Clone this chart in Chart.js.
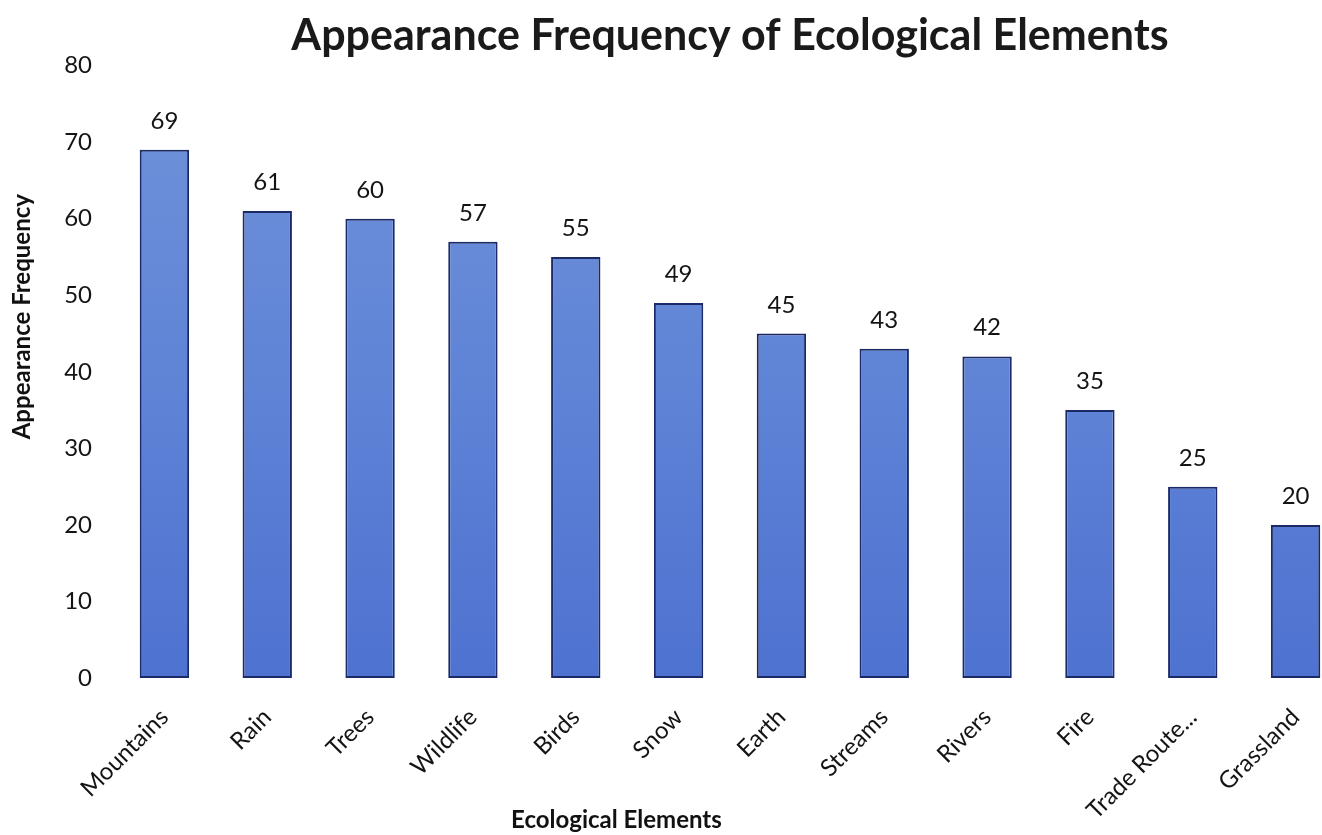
<!DOCTYPE html>
<html>
<head>
<meta charset="utf-8">
<script src="https://cdn.jsdelivr.net/npm/chart.js@4/dist/chart.umd.min.js"></script>
<style>
  html, body { margin: 0; padding: 0; background: #ffffff; overflow: hidden; }
  #wrap { position: relative; width: 1350px; height: 835px; }
</style>
</head>
<body>
<div id="wrap"><canvas id="c"></canvas></div>
<script>
const categories = ["Mountains", "Rain", "Trees", "Wildlife", "Birds", "Snow", "Earth", "Streams", "Rivers", "Fire", "Trade Route...", "Grassland"];
const frequencies = [69, 61, 60, 57, 55, 49, 45, 43, 42, 35, 25, 20];
const yTicks = [0, 10, 20, 30, 40, 50, 60, 70, 80];

const chartTitle = "Appearance Frequency of Ecological Elements";
const xTitle = "Ecological Elements";
const yTitle = "Appearance Frequency";

const FONT = "Lato, 'Open Sans', sans-serif";

// Value labels above each bar, taken from the bar elements themselves
const valueLabels = {
  id: 'valueLabels',
  afterDatasetsDraw(chart) {
    const ctx = chart.ctx;
    const meta = chart.getDatasetMeta(0);
    ctx.save();
    ctx.font = "24px " + FONT;
    ctx.fillStyle = "#141414";
    ctx.textAlign = "center";
    ctx.textBaseline = "alphabetic";
    meta.data.forEach((bar, i) => {
      ctx.fillText(String(chart.data.datasets[0].data[i]), bar.x, bar.y - 21);
    });
    ctx.restore();
  }
};

// Axis titles placed relative to the plot area
const axisTitles = {
  id: 'axisTitles',
  afterDraw(chart) {
    const ctx = chart.ctx;
    const a = chart.chartArea;
    ctx.save();
    ctx.font = "bold 24px " + FONT;
    ctx.fillStyle = "#111111";
    ctx.textAlign = "center";
    ctx.textBaseline = "middle";
    ctx.fillText(xTitle, a.left + (a.right - a.left) * 0.408, 820);
    ctx.translate(22, a.top + (a.bottom - a.top) * 0.41);
    ctx.rotate(-Math.PI / 2);
    ctx.fillText(yTitle, 0, 0);
    ctx.restore();
  }
};

function barFill(context) {
  const chart = context.chart;
  const a = chart.chartArea;
  if (!a) return "#5a7ed4";
  const g = chart.ctx.createLinearGradient(0, a.top, 0, a.bottom);
  g.addColorStop(0, "#7093da");
  g.addColorStop(0.5, "#6084d6");
  g.addColorStop(1, "#4e72d0");
  return g;
}

new Chart(document.getElementById("c"), {
  type: "bar",
  data: {
    labels: categories,
    datasets: [{
      data: frequencies,
      backgroundColor: barFill,
      borderColor: "#1b2a66",
      borderWidth: 2,
      borderSkipped: false,
      barPercentage: 0.48,
      categoryPercentage: 1.0
    }]
  },
  options: {
    responsive: true,
    maintainAspectRatio: false,
    animation: false,
    layout: { padding: { left: 0, right: 3, top: 0, bottom: 0 } },
    plugins: {
      legend: { display: false },
      tooltip: { enabled: false },
      title: {
        display: true,
        text: chartTitle,
        fullSize: false,
        color: "#1a1a1a",
        font: { family: FONT, size: 43, weight: "bold" },
        padding: { top: 10, bottom: 4 }
      }
    },
    scales: {
      x: {
        grid: { display: false, drawTicks: false },
        border: { display: false },
        ticks: {
          color: "#141414",
          font: { family: FONT, size: 24 },
          maxRotation: 45,
          minRotation: 45,
          padding: 25,
          autoSkip: false
        },
        afterFit(s) { s.height = 157; }
      },
      y: {
        min: 0,
        max: 80,
        grid: { display: false, drawTicks: false },
        border: { display: false },
        afterBuildTicks(s) { s.ticks = yTicks.map(v => ({ value: v })); },
        ticks: {
          color: "#141414",
          font: { family: FONT, size: 24 },
          padding: 21
        },
        afterFit(s) { s.width = 113; }
      }
    }
  },
  plugins: [valueLabels, axisTitles]
});
</script>
</body>
</html>
